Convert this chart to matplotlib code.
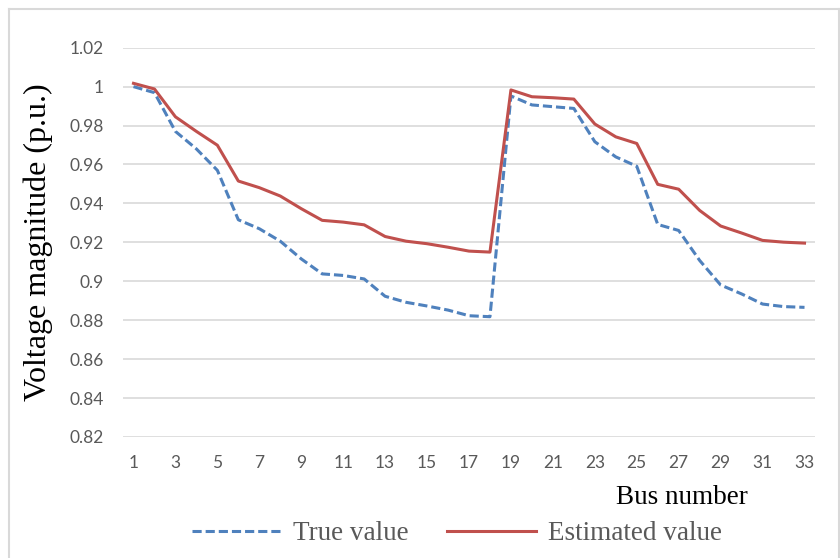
import matplotlib.pyplot as plt
from matplotlib.lines import Line2D

# bus numbers 1..33
bus = list(range(1, 34))

true_value = [1.000, 0.9969, 0.977, 0.968, 0.957, 0.9316, 0.927, 0.9206, 0.9115, 0.9038,
              0.903, 0.9012, 0.8923, 0.8892, 0.8873, 0.8852, 0.8823, 0.8818,
              0.9952, 0.9906, 0.9897, 0.9888, 0.9717, 0.9639, 0.9591, 0.9292,
              0.9261, 0.9107, 0.8981, 0.8935, 0.8883, 0.887, 0.8866]

estimated_value = [1.0017, 0.9988, 0.9845, 0.977, 0.9699, 0.9515, 0.9481, 0.9438, 0.9373, 0.9313,
                   0.9304, 0.929, 0.923, 0.9206, 0.9193, 0.9175, 0.9155, 0.915,
                   0.9983, 0.9948, 0.9943, 0.9936, 0.9808, 0.9742, 0.9708, 0.9498,
                   0.9473, 0.9364, 0.9284, 0.9248, 0.921, 0.9201, 0.9196]

y_ticks = [0.82, 0.84, 0.86, 0.88, 0.90, 0.92, 0.94, 0.96, 0.98, 1.00, 1.02]
x_ticks = list(range(1, 34, 2))

W, H = 840, 558
fig = plt.figure(figsize=(W / 100, H / 100), dpi=100)
ax = fig.add_axes([123 / W, 1 - 437 / H, (815 - 123) / W, (437 - 47.7) / H])

blue = '#4F81BD'
red = '#C0504D'
grey_txt = '#595959'

ax.plot(bus, true_value, color=blue, lw=2.2, dashes=(3, 1.3), label='True value')
ax.plot(bus, estimated_value, color=red, lw=2.2, label='Estimated value')

ax.set_xlim(0.5, 33.5)
ax.set_ylim(0.82, 1.02)
ax.set_yticks(y_ticks)
ax.set_yticklabels([f'{v:g}' for v in y_ticks])
ax.set_xticks(x_ticks)
ax.set_xticklabels([str(v) for v in x_ticks])
ax.grid(axis='y', color='#D9D9D9', lw=1.2)
ax.set_axisbelow(True)
for s in ax.spines.values():
    s.set_visible(False)
ax.tick_params(length=0, labelsize=12.5, labelcolor=grey_txt)
ax.tick_params(axis='y', pad=14)
ax.tick_params(axis='x', pad=13)
for lab in ax.get_xticklabels() + ax.get_yticklabels():
    lab.set_fontfamily('Lato')

fig.text(38 / W, 1 - 242 / H, 'Voltage magnitude (p.u.)', rotation=90,
         ha='center', va='center', fontsize=23, family='Liberation Serif', color='black')
fig.text(748 / W, 1 - 497 / H, 'Bus number', ha='right', va='center',
         fontsize=19.5, family='Liberation Serif', color='black')

leg = fig.legend(loc='center', bbox_to_anchor=(457 / W, 1 - 534 / H), ncol=2, frameon=False,
                 prop={'family': 'Liberation Serif', 'size': 19.5},
                 handlelength=3.3, handletextpad=0.42, columnspacing=1.4)
for t in leg.get_texts():
    t.set_color(grey_txt)

# chart area border
bc = '#D9D9D9'
fig.add_artist(Line2D([9 / W, 9 / W], [0, 1 - 9 / H], color=bc, lw=1.5))
fig.add_artist(Line2D([9 / W, 839 / W], [1 - 9 / H, 1 - 9 / H], color=bc, lw=1.5))
fig.add_artist(Line2D([839 / W, 839 / W], [0, 1 - 9 / H], color=bc, lw=1.5))

fig.savefig('out.png', dpi=100)
